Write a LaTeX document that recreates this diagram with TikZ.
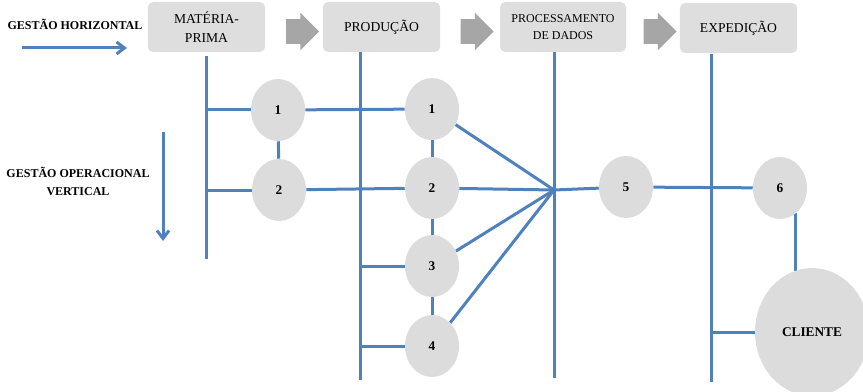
\documentclass[tikz,border=0pt]{standalone}
\usepackage{fontspec}
\setmainfont{Liberation Serif}
\usetikzlibrary{shapes.geometric,shapes.arrows,arrows.meta,backgrounds}
\definecolor{linhaazul}{HTML}{4F81BD}
\definecolor{caixacinza}{HTML}{DEDEDE}
\definecolor{bolacinza}{HTML}{DCDCDC}
\definecolor{setacinza}{HTML}{A6A6A6}

\begin{document}
\begin{tikzpicture}[x=0.75pt, y=-0.75pt, >={Straight Barb[length=6pt, width=9pt]},
    etapa/.style={rounded corners=4pt, fill=caixacinza, minimum width=88pt, minimum height=37.5pt, align=center, inner sep=1pt, font=\fontsize{10.2}{14}\selectfont},
    seta/.style={single arrow, fill=setacinza, inner xsep=0pt, inner ysep=9pt, minimum height=24.75pt, single arrow head extend=4.9pt},
    bola/.style={ellipse, fill=bolacinza, minimum width=40.5pt, minimum height=46.5pt, inner sep=0pt, font=\bfseries\fontsize{10}{12}\selectfont},
    ligacao/.style={draw=linhaazul, line width=2.25pt},
    titulo/.style={align=center, inner sep=0pt, font=\bfseries\fontsize{9}{13.5}\selectfont}]
    \useasboundingbox (0,0) rectangle (863,392);
    \clip (0,0) rectangle (863,392);

    % etapas do processo
    \node[etapa] (mp) at (206.5,27) {MATÉRIA-\\PRIMA};
    \node[etapa] (prod) at (381.5,27) {PRODUÇÃO};
    \node[etapa, minimum width=94.5pt, font=\fontsize{9}{12.75}\selectfont] (proc) at (563,27) {PROCESSAMENTO\\DE DADOS};
    \node[etapa] (exp) at (738.5,28) {EXPEDIÇÃO};

    \node[seta] (s1) at (296.5,31.5) {};
    \node[seta] (s2) at (471,31.5) {};
    \node[seta] (s3) at (654,31.5) {};

    % sentidos de gestao
    \node[titulo] (gh) at (75,24) {GESTÃO HORIZONTAL};
    \node[titulo] (gov) at (78,181) {GESTÃO OPERACIONAL\\VERTICAL};
    \coordinate (gha) at (22,48);
    \coordinate (ghb) at (127,48);
    \coordinate (gva) at (163,132);
    \coordinate (gvb) at (163,241);
    \draw[ligacao, ->] (gha) -- (ghb);
    \draw[ligacao, ->] (gva) -- (gvb);

    % pontos de controle
    \node[bola] (m1) at (278,110) {1};
    \node[bola] (m2) at (279,190) {2};
    \node[bola] (p1) at (432,109) {1};
    \node[bola] (p2) at (432,188) {2};
    \node[bola] (p3) at (432,266) {3};
    \node[bola] (p4) at (432,346) {4};
    \node[bola] (c5) at (626,187) {5};
    \node[bola] (c6) at (780,188) {6};
    \node[bola, minimum width=85.5pt, minimum height=96pt] (cli) at (812,332) {CLIENTE};

    % linhas verticais
    \coordinate (l1a) at (206,56);
    \coordinate (l1b) at (206,259);
    \coordinate (l2a) at (360,52);
    \coordinate (l2b) at (360,380);
    \coordinate (l3a) at (554,51);
    \coordinate (l3b) at (554,378);
    \coordinate (l4a) at (711,54);
    \coordinate (l4b) at (711,382);
    \coordinate (hub) at (554,190);

    \begin{scope}[on background layer]
    \begin{scope}[every path/.style={ligacao}]
        \draw (l1a) -- (l1b);
        \draw (l2a) -- (l2b);
        \draw (l3a) -- (l3b);
        \draw (l4a) -- (l4b);
        % ligacoes
        \draw (m1.west -| l1a) -- (m1);
        \draw (m2.west -| l1a) -- (m2);
        \draw (m1) -- (m2);
        \draw (m1) -- (p1);
        \draw (m2) -- (p2);
        \draw (p1) -- (p2) -- (p3) -- (p4);
        \draw (p3.west -| l2a) -- (p3);
        \draw (p4.west -| l2a) -- (p4);
        \foreach \n in {p1,p2,p3,p4}
            \draw (\n) -- (hub);
        \draw (hub) -- (c5) -- (c6);
        \draw (c6.-58) -- (c6.-58 |- cli.center);
        \draw (cli.west -| l4a) -- (cli);
    \end{scope}
    \end{scope}
\end{tikzpicture}
\end{document}
